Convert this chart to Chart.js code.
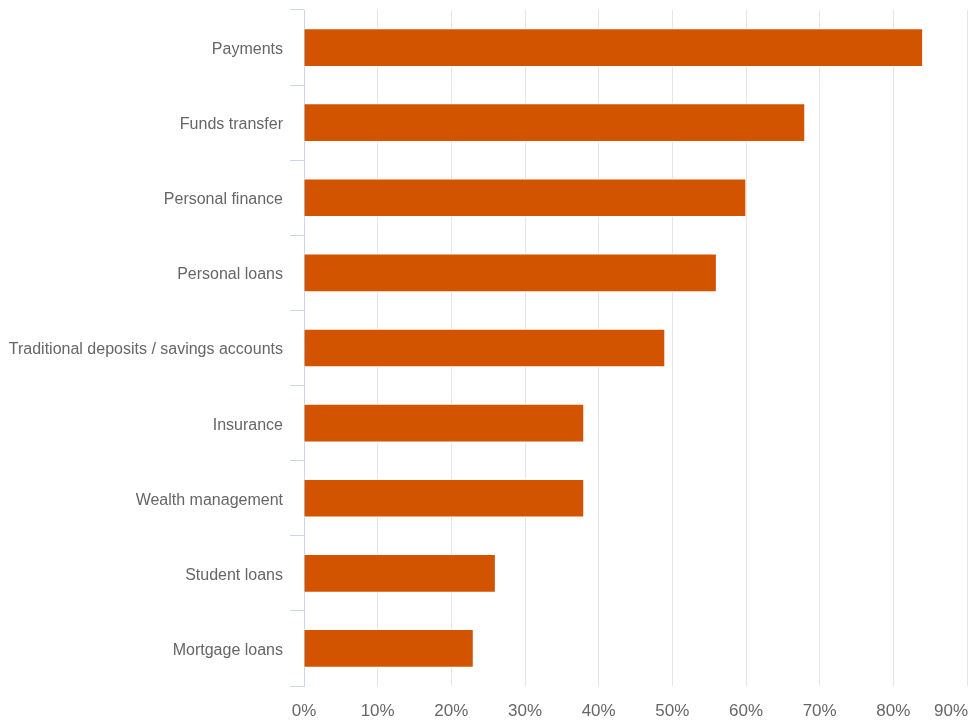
<!DOCTYPE html>
<html><head><meta charset="utf-8">
<script src="https://cdn.jsdelivr.net/npm/chart.js@4.4.1/dist/chart.umd.min.js"></script>
<style>html,body{margin:0;padding:0;background:#fff}#wrap{width:970px;height:720px}</style>
</head><body><div id="wrap"><canvas id="c" width="970" height="720"></canvas></div>
<script>
const categories = ["Payments","Funds transfer","Personal finance","Personal loans","Traditional deposits / savings accounts","Insurance","Wealth management","Student loans","Mortgage loans"];
const shares = [84, 68, 60, 56, 49, 38, 38, 26, 23];
const xTickValues = [0, 10, 20, 30, 40, 50, 60, 70, 80, 90];
const xTickLabels = ["0%", "10%", "20%", "30%", "40%", "50%", "60%", "70%", "80%", "90%"];

const FONT = '"Liberation Sans", Arial, sans-serif';

const xLabelPlugin = {
  id: 'xLabels',
  afterDraw(chart) {
    const sc = chart.scales.x;
    const ctx = chart.ctx;
    ctx.save();
    ctx.font = '17px ' + FONT;
    ctx.fillStyle = '#666666';
    ctx.textBaseline = 'alphabetic';
    xTickValues.forEach((v, i) => {
      const t = xTickLabels[i];
      const w = ctx.measureText(t).width;
      let x = sc.getPixelForValue(v) - w / 2;
      if (x + w > chart.width - 2) x = chart.width - 2 - w;
      ctx.fillText(t, x, sc.bottom - 4);
    });
    ctx.restore();
  }
};

new Chart(document.getElementById('c'), {
  type: 'bar',
  data: {
    labels: categories,
    datasets: [{
      data: shares,
      backgroundColor: '#d35400',
      borderColor: '#ffffff',
      borderWidth: 1,
      barThickness: 38
    }]
  },
  options: {
    indexAxis: 'y',
    responsive: false,
    animation: false,
    layout: { padding: { top: 10, left: 0, right: 3, bottom: 0 } },
    plugins: { legend: { display: false }, tooltip: { enabled: false } },
    scales: {
      x: {
        min: 0, max: 90,
        afterBuildTicks(sc) { sc.ticks = xTickValues.map(v => ({ value: v })); },
        afterFit(sc) { sc.height = 34; sc.paddingLeft = 0; sc.paddingRight = 0; sc.paddingTop = 0; sc.paddingBottom = 0; },
        border: { display: false },
        grid: { color: '#e6e6e6', lineWidth: 1, drawTicks: false },
        ticks: { display: false }
      },
      y: {
        afterFit(sc) { sc.width = 304; sc.paddingTop = 0; sc.paddingBottom = 0; },
        border: { display: true, color: '#ccd6eb', width: 1 },
        grid: { offset: true, drawOnChartArea: false, drawTicks: true, tickLength: 14, color: '#ccd6eb' },
        ticks: { color: '#666666', font: { family: FONT, size: 16 }, padding: 7, labelOffset: 2 }
      }
    }
  },
  plugins: [xLabelPlugin]
});
</script></body></html>
